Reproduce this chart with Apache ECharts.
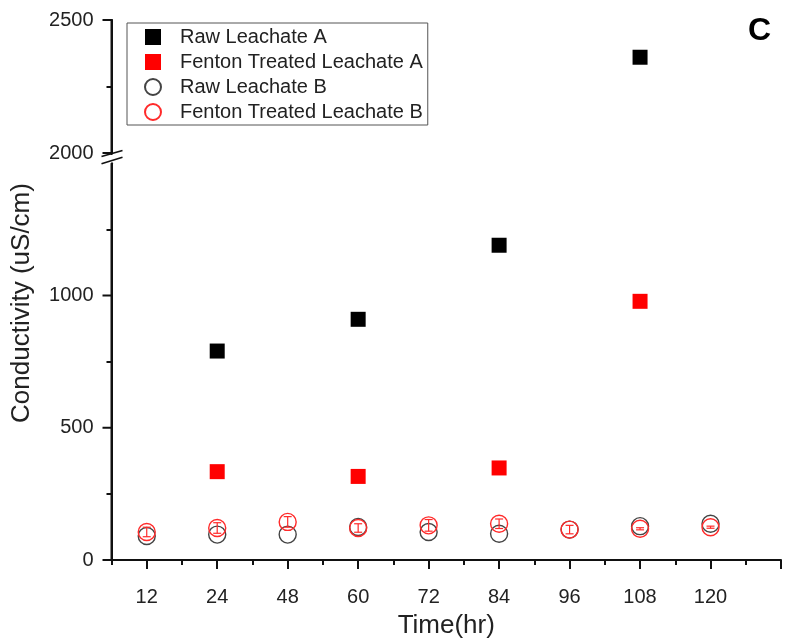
<!DOCTYPE html>
<html>
<head>
<meta charset="utf-8">
<script src="https://cdn.jsdelivr.net/npm/echarts@6/dist/echarts.min.js"></script>
<style>
html,body{margin:0;padding:0;background:#fff;}
#chart{width:792px;height:644px;}
</style>
</head>
<body>
<div id="chart"></div>
<script>
// ---- data ----
const categories = ['12', '24', '48', '60', '72', '84', '96', '108', '120'];
const rawA       = [null, 790, null, 910, null, 1190, null, 2360, null];
const fentonA    = [null, 334, null, 316, null, 348, null, 978, null];
const rawB       = [91, 96, 96, 125, 106, 99, 115, 128, 137];
const fentonB    = [106, 121, 144, 121, 131, 137, 115, 118, 124];
const fentonBErr = [18, 20, 20, 16, 22, 18, 16, 4, 4];
const lowerTicks = [0, 500, 1000];
const upperTicks = [2000, 2500];
const seriesNames = ['Raw Leachate A', 'Fenton Treated Leachate A', 'Raw Leachate B', 'Fenton Treated Leachate B'];

// ---- layout ----
const lowerMin = 0, lowerMax = 1500, upperMin = 2000, upperMax = 2500, yStep = 500;
const gLeft = 111.5, gRight = 11;
const upperTop = 20, upperH = 133;
const lowerTop = 163.25, lowerBottom = 82.5;
const chartH = 644;
const upperBottomY = upperTop + upperH;
const lowerBottomY = chartH - lowerBottom;

// category i sits at x = i + 0.5 (half a slot from the y axis)
const pos = i => i + 0.5;
function pts(arr, lo, hi) {
  const out = [];
  arr.forEach((v, i) => { if (v != null && v >= lo && v <= hi) out.push([pos(i), v]); });
  return out;
}
const xMajor = categories.map((c, i) => pos(i)).concat([pos(categories.length)]);
const xMinor = categories.map((c, i) => i).concat([categories.length]);
const xMin = 0, xMax = pos(categories.length);

const font = 'Liberation Sans, Arial, sans-serif';
const axisCol = '#111';

function yAxisDef(grid, min, max, ticks) {
  return {
    type: 'value', gridIndex: grid, min: min, max: max, interval: yStep, position: 'left',
    axisLine: { show: true, onZero: false, lineStyle: { color: axisCol, width: 2 } },
    axisTick: { show: false },
    minorTick: { show: true, splitNumber: 2, length: 5, lineStyle: { color: axisCol, width: 2 } },
    axisLabel: { show: true, margin: 18, fontSize: 20, color: '#222', fontFamily: font,
                 formatter: v => (ticks.indexOf(v) >= 0 ? String(v) : '') },
    splitLine: { show: false },
    minorSplitLine: { show: false }
  };
}

const chart = echarts.init(document.getElementById('chart'));
const baseGraphic = [
  {
    type: 'text', x: 22, y: 303, rotation: Math.PI / 2,
    style: { text: 'Conductivity (uS/cm)', fontSize: 26, fill: '#222', fontFamily: font, align: 'center', verticalAlign: 'middle' }
  },
  {
    type: 'line', shape: { x1: gLeft - 10, y1: upperBottomY + 3.5, x2: gLeft + 11, y2: upperBottomY - 2.5 },
    style: { stroke: '#111', lineWidth: 1.6 }
  },
  {
    type: 'line', shape: { x1: gLeft - 10, y1: lowerTop + 0.5, x2: gLeft + 11, y2: lowerTop - 6 },
    style: { stroke: '#111', lineWidth: 1.6 }
  }
];
const option = {
  animation: false,
  backgroundColor: '#fff',
  textStyle: { fontFamily: font },
  title: {
    text: 'C', right: 16, top: 10,
    textStyle: { fontSize: 32, fontWeight: 'bold', color: '#000', fontFamily: font }
  },
  legend: {
    data: seriesNames,
    orient: 'vertical',
    left: 127, top: 23,
    padding: [4, 5, 3, 17],
    itemWidth: 16, itemHeight: 16, itemGap: 5,
    borderColor: '#555', borderWidth: 1,
    textStyle: { fontSize: 20, lineHeight: 20, color: '#222', fontFamily: font, padding: [0, 0, 0, 14] }
  },
  grid: [
    { left: gLeft, right: gRight, top: lowerTop, bottom: lowerBottom, containLabel: false },
    { left: gLeft, right: gRight, top: upperTop, height: upperH, containLabel: false }
  ],
  xAxis: [
    {
      type: 'value', gridIndex: 0, min: xMin, max: xMax, position: 'bottom',
      axisLine: { show: true, onZero: false, lineStyle: { color: axisCol, width: 2 } },
      axisTick: { show: true, inside: false, length: 9, lineStyle: { color: axisCol, width: 2 }, customValues: xMajor },
      axisLabel: { show: true, customValues: xMajor.slice(0, categories.length), margin: 27, fontSize: 20, color: '#222', fontFamily: font,
                   formatter: v => categories[Math.round(v - 0.5)] || '' },
      splitLine: { show: false },
      name: 'Time(hr)', nameLocation: 'middle', nameGap: 53,
      nameTextStyle: { fontSize: 26, color: '#222', fontFamily: font }
    },
    {
      type: 'value', gridIndex: 0, min: xMin, max: xMax, position: 'bottom',
      axisLine: { show: false, onZero: false },
      axisTick: { show: true, length: 5, lineStyle: { color: axisCol, width: 2 }, customValues: xMinor },
      axisLabel: { show: false },
      splitLine: { show: false }
    },
    {
      type: 'value', gridIndex: 1, min: xMin, max: xMax, show: false, position: 'bottom',
      axisLine: { onZero: false },
      splitLine: { show: false }
    }
  ],
  yAxis: [
    yAxisDef(0, lowerMin, lowerMax, lowerTicks),
    yAxisDef(1, upperMin, upperMax, upperTicks)
  ],
  series: [
    {
      name: seriesNames[0], type: 'scatter', xAxisIndex: 0, yAxisIndex: 0,
      symbol: 'rect', symbolSize: 15, itemStyle: { color: '#000', opacity: 1 },
      data: pts(rawA, lowerMin, lowerMax), z: 3
    },
    {
      name: seriesNames[0], type: 'scatter', xAxisIndex: 2, yAxisIndex: 1,
      symbol: 'rect', symbolSize: 15, itemStyle: { color: '#000', opacity: 1 },
      data: pts(rawA, upperMin, upperMax), z: 3
    },
    {
      name: seriesNames[1], type: 'scatter', xAxisIndex: 0, yAxisIndex: 0,
      symbol: 'rect', symbolSize: 15, itemStyle: { color: '#ff0000', opacity: 1 },
      data: pts(fentonA, lowerMin, lowerMax), z: 3
    },
    {
      name: seriesNames[2], type: 'scatter', xAxisIndex: 0, yAxisIndex: 0,
      symbol: 'circle', symbolSize: 17,
      itemStyle: { color: 'rgba(255,255,255,0)', borderColor: '#444', borderWidth: 1.4, opacity: 1 },
      data: pts(rawB, lowerMin, lowerMax), z: 3
    },
    {
      name: seriesNames[3], type: 'scatter', xAxisIndex: 0, yAxisIndex: 0,
      symbol: 'circle', symbolSize: 17,
      itemStyle: { color: 'rgba(255,255,255,0)', borderColor: '#ff2a2a', borderWidth: 1.4, opacity: 1 },
      data: pts(fentonB, lowerMin, lowerMax), z: 4
    },
    {
      type: 'custom', xAxisIndex: 0, yAxisIndex: 0, z: 4, silent: true,
      data: fentonB.map((v, i) => [pos(i), v, fentonBErr[i]]),
      renderItem: function (params, api) {
        const x = api.value(0), y = api.value(1), e = api.value(2);
        const hi = api.coord([x, y + e]);
        const lo = api.coord([x, y - e]);
        const w = 4;
        const st = { stroke: '#ff2a2a', lineWidth: 1.2 };
        return {
          type: 'group',
          children: [
            { type: 'line', shape: { x1: hi[0], y1: hi[1], x2: lo[0], y2: lo[1] }, style: st },
            { type: 'line', shape: { x1: hi[0] - w, y1: hi[1], x2: hi[0] + w, y2: hi[1] }, style: st },
            { type: 'line', shape: { x1: lo[0] - w, y1: lo[1], x2: lo[0] + w, y2: lo[1] }, style: st }
          ]
        };
      }
    }
  ],
  graphic: baseGraphic
};
chart.setOption(option);

// y axis spines and major ticks (filled rects), positioned through the axes' scales
function px(finder, v, fallback) {
  try {
    const r = chart.convertToPixel(finder, v);
    if (typeof r === 'number' && isFinite(r)) return r;
  } catch (e) { /* fall back */ }
  return fallback;
}
function linY(v, min, max, top, bottom) { return bottom - (v - min) / (max - min) * (bottom - top); }
const axX = px({ xAxisIndex: 0 }, xMin, gLeft);
const segs = [
  { idx: 0, min: lowerMin, max: lowerMax, ticks: lowerTicks, top: lowerTop, bottom: lowerBottomY, padA: 1, padB: 0 },
  { idx: 1, min: upperMin, max: upperMax, ticks: upperTicks, top: upperTop, bottom: upperBottomY, padA: 2, padB: 1 }
];
const extra = [];
segs.forEach(s => {
  const ya = px({ yAxisIndex: s.idx }, s.min, linY(s.min, s.min, s.max, s.top, s.bottom));
  const yb = px({ yAxisIndex: s.idx }, s.max, linY(s.max, s.min, s.max, s.top, s.bottom));
  extra.push({ type: 'rect', z: 100, silent: true,
               shape: { x: axX - 1, y: yb - s.padB, width: 2, height: (ya + s.padA) - (yb - s.padB) },
               style: { fill: axisCol } });
  s.ticks.forEach(t => {
    const y = px({ yAxisIndex: s.idx }, t, linY(t, s.min, s.max, s.top, s.bottom));
    extra.push({ type: 'rect', z: 100, silent: true,
                 shape: { x: axX - 9, y: y - 1, width: 9, height: 2 },
                 style: { fill: axisCol } });
  });
});
chart.setOption({ graphic: baseGraphic.concat(extra) });
</script>
</body>
</html>
